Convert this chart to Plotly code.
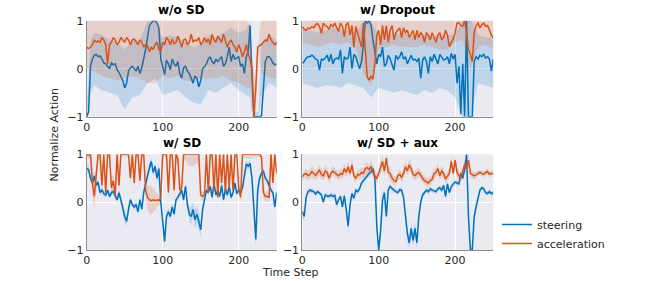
import plotly.graph_objects as go

# ---------------- data ----------------
T_STEP = 2.5
N_PTS = 101
t_line = [i * T_STEP for i in range(N_PTS)]

titles = ["w/o SD", "w/ Dropout", "w/ SD", "w/ SD + aux"]
series_names = ["steering", "acceleration"]
x_ticks = [0, 100, 200]
y_ticks = [-1, 0, 1]

# --- panel 1 : w/o SD ---
steer_1 = [-1.0, -0.9, 0.05, 0.2, 0.28, 0.3, 0.25, 0.27, 0.2, 0.12,
           0.1, 0.05, 0.0, 0.12, 0.08, 0.1, -0.02, -0.08, -0.15, -0.25,
           -0.4, -0.3, -0.05, 0.02, 0.05, 0.0, -0.05, 0.05, -0.1, 0.02,
           0.18, 0.4, 0.65, 0.9, 0.95, 1.0, 1.0, 0.95, 0.85, 0.2,
           0.05, -0.12, 0.18, 0.1, -0.02, 0.2, 0.1, 0.05, 0.15, -0.1,
           -0.2, 0.02, 0.05, -0.05, -0.1, -0.2, -0.3, -0.15, -0.2, -0.38,
           -0.25, 0.0, 0.05, 0.1, 0.2, 0.25, 0.15, 0.1, 0.2, 0.15,
           0.2, 0.25, 0.05, 0.1, 0.25, 0.45, 0.15, 0.3, 0.2, 0.22,
           0.25, 0.05, 0.1, -0.1, 0.25, 0.35, 0.9, -0.2, -1.0, -1.0,
           -1.0, -1.0, -0.98, -0.3, 0.15, 0.25, 0.25, 0.2, 0.12, 0.08,
           0.1]
accel_1 = [0.45, 0.42, 0.45, 0.5, 0.6, 0.55, 0.58, 0.55, 0.65, 0.6,
           0.5, 0.1, 0.5, 0.55, 0.65, 0.6, 0.5, 0.55, 0.65, 0.6,
           0.55, 0.65, 0.6, 0.5, 0.6, 0.62, 0.55, 0.5, 0.6, 0.55,
           0.45, 0.5, 0.48, 0.35, 0.45, 0.4, 0.5, 0.55, 0.4, 0.35,
           0.55, 0.5, 0.65, 0.6, 0.5, 0.62, 0.52, 0.55, 0.68, 0.55,
           0.45, 0.6, 0.62, 0.5, 0.55, 0.72, 0.55, 0.6, 0.58, 0.65,
           0.5, 0.55, 0.65, 0.55, 0.62, 0.5, 0.72, 0.6, 0.55, 0.68,
           0.6, 0.55, 0.72, 0.6, 0.45, 0.55, 0.6, 0.5, 0.45, 0.35,
           0.5, 0.4, 0.25, 0.35, 0.5, 0.3, 0.2, 0.0, -1.0, -0.4,
           0.45, 0.48, 0.5, 0.55, 0.6, 0.58, 0.72, 0.6, 0.55, 0.5,
           0.55]
t_band_1 = [0, 5, 10, 20, 30, 40, 50, 60, 70, 80, 90, 100, 110, 120, 130,
            140, 150, 160, 170, 180, 190, 200, 210, 215, 218, 222, 226, 230, 240, 250]
steer_hi_1 = [-0.8, 0.6, 0.75, 0.7, 0.6, 0.55, 0.4, 0.6, 0.6, 1.0, 1.0, 0.65, 0.7, 0.65, 0.55,
              0.45, 0.5, 0.7, 0.65, 0.75, 0.85, 0.75, 0.8, 1.0, -0.2, -0.9, -0.9, 0.5, 0.7, 0.6]
steer_lo_1 = [-1.0, -0.5, -0.35, -0.45, -0.5, -0.55, -0.85, -0.6, -0.55, -0.3, -0.2, -0.55, -0.5, -0.45, -0.6,
              -0.7, -0.75, -0.45, -0.5, -0.4, -0.3, -0.45, -0.55, -0.6, -1.05, -1.05, -1.05, -0.6, -0.3, -0.4]
accel_hi_1 = [1.1, 1.1, 1.2, 1.2, 1.2, 1.2, 1.2, 1.2, 1.2, 1.1, 1.1, 1.2, 1.2, 1.2, 1.2,
              1.2, 1.2, 1.2, 1.2, 1.2, 1.1, 1.1, 1.0, 0.9, 0.2, -0.3, 0.55, 1.1, 1.1, 1.1]
accel_lo_1 = [0.0, -0.05, -0.05, -0.15, -0.2, -0.25, -0.2, -0.15, -0.2, -0.3, -0.3, -0.15, -0.2, -0.15, -0.25,
              -0.25, -0.2, -0.2, -0.2, -0.15, -0.25, -0.3, -0.4, -0.4, -0.6, -1.0, 0.35, -0.1, -0.2, -0.2]

# --- panel 2 : w/ Dropout ---
steer_2 = [0.11, 0.15, 0.22, 0.25, 0.25, 0.28, 0.25, 0.2, 0.18, -0.03,
           0.2, 0.18, 0.22, 0.28, 0.15, 0.3, 0.1, 0.2, 0.22, 0.2,
           0.39, -0.1, 0.25, 0.2, 0.22, 0.45, 0.0, 0.3, 0.25, 0.1,
           0.0, 0.15, 0.5, 1.0, 0.95, 1.0, 0.9, 0.6, 0.3, 0.1,
           0.3, 0.25, 0.45, 0.05, 0.1, 0.28, 0.2, 0.1, -0.03, 0.28,
           0.2, 0.25, 0.35, 0.2, 0.25, 0.1, 0.2, 0.28, 0.18, 0.2,
           0.15, 0.22, -0.2, 0.18, 0.25, 0.15, -0.1, 0.25, 0.15, 0.3,
           0.2, 0.1, 0.3, 0.25, 0.18, 0.2, 0.25, 0.1, 0.32, 0.2,
           0.3, -0.3, 0.05, -0.95, 0.1, -1.0, 1.0, -1.0, -1.0, -1.0,
           0.15, 0.25, 0.2, 0.28, 0.25, 0.3, 0.22, 0.25, 0.2, -0.05,
           0.2]
accel_2 = [0.88, 0.82, 0.8, 0.85, 0.83, 0.88, 0.85, 0.92, 0.94, 0.88,
           0.74, 0.95, 0.9, 0.88, 0.82, 0.92, 0.88, 0.95, 0.85, 0.78,
           0.95, 0.88, 0.67, 0.92, 0.95, 0.7, 0.9, 0.45, 0.88, 0.75,
           0.6, 0.45, 0.95, 0.3, -0.17, -0.24, -0.15, -0.22, 0.1, 0.7,
           0.8, 0.5, 0.9, 0.6, 0.9, 0.55, 0.8, 0.9, 0.6, 0.75,
           0.8, 0.85, 0.65, 0.85, 0.75, 0.8, 0.65, 0.72, 0.8, 0.6,
           0.8, 0.65, 0.75, 0.7, 0.55, 0.75, 0.7, 0.6, 0.75, 0.65,
           0.55, 0.7, 0.75, 0.6, 0.65, 0.8, 0.7, 0.46, 0.55, 0.62,
           0.75, 0.95, 0.95, 0.9, 0.88, 1.0, 0.75, 0.4, 0.3, 0.15,
           0.75, 0.9, 0.95, 0.85, 0.92, 0.95, 0.88, 0.9, 0.8, 0.7,
           0.65]
t_band_2 = [0, 10, 20, 30, 40, 50, 60, 70, 80, 90, 100, 110, 120, 130, 140,
            150, 160, 170, 180, 190, 200, 210, 220, 230, 240, 250]
steer_hi_2 = [0.85, 0.8, 0.75, 0.8, 0.85, 0.8, 0.8, 0.75, 1.0, 1.0, 0.7, 0.75, 0.7, 0.75, 0.7,
              0.7, 0.7, 0.65, 0.7, 0.7, 0.7, 1.05, 1.05, 0.7, 0.65, 0.65]
steer_lo_2 = [-0.3, -0.35, -0.4, -0.35, -0.35, -0.4, -0.3, -0.35, -0.4, -0.6, -0.4, -0.45, -0.5, -0.45, -0.5,
              -0.55, -0.45, -0.5, -0.4, -0.45, -0.6, -1.05, -1.05, -0.3, -0.35, -0.4]
accel_hi_2 = [1.2, 1.2, 1.2, 1.2, 1.2, 1.2, 1.2, 1.2, 1.2, 1.2, 1.2, 1.2, 1.2, 1.2, 1.2,
              1.2, 1.2, 1.2, 1.2, 1.2, 1.2, 1.2, 1.2, 1.2, 1.2, 1.2]
accel_lo_2 = [0.55, 0.5, 0.45, 0.5, 0.55, 0.5, 0.55, 0.4, -0.1, -0.35, 0.4, 0.45, 0.5, 0.45, 0.45,
              0.45, 0.5, 0.45, 0.4, 0.4, 0.55, 0.6, 0.0, 0.45, 0.5, 0.4]

# --- panel 3 : w/ SD ---
steer_3 = [0.7, 0.68, 0.5, 0.4, 0.55, 0.35, 0.42, 0.2, 0.25, 0.18,
           0.15, 0.25, 0.12, 0.2, 0.22, 0.12, 0.05, 0.2, 0.0, -0.12,
           -0.3, -0.4, -0.15, 0.05, -0.05, -0.1, -0.05, -0.2, 0.05, -0.15,
           0.2, 0.35, 0.55, 0.72, 0.85, 0.62, 0.75, 0.5, 0.7, 0.0,
           -0.5, -0.82, -0.3, -0.2, -0.3, -0.1, -0.25, 0.05, 0.1, 0.18,
           0.25, 0.05, 0.33, -0.05, -0.25, -0.3, -0.15, -0.37, -0.25, -0.4,
           -0.58, -0.15, 0.1, 0.25, 0.2, 0.33, 0.1, 0.4, 0.15, 0.25,
           0.12, 0.35, 0.05, 0.28, 0.15, 0.33, 0.1, 0.2, 0.4, 0.18,
           0.25, 0.2, 0.3, 0.6, 0.8, 0.75, 0.81, 0.5, -0.2, -0.78,
           0.25, 0.5, 0.6, 0.65, 0.5, 0.45, 0.35, 0.25, 0.2, -0.1,
           0.2]
accel_3 = [1.0, 0.98, 1.0, 0.4, 0.12, 0.5, 1.0, 1.0, 0.35, 1.0,
           0.2, 1.0, 1.0, 0.3, 0.45, 0.15, 1.0, 0.35, 1.0, 1.0,
           1.0, 1.0, 1.0, 0.5, 1.0, 0.4, 1.0, 1.0, 0.45, 1.0,
           1.0, 0.25, 0.1, 0.05, 0.03, 0.05, 0.03, 0.05, 0.03, 0.1,
           1.0, 1.0, 1.0, 0.2, 1.0, 1.0, 0.25, 1.0, 0.9, 0.25,
           0.3, 1.0, 1.0, 1.0, 1.0, 1.0, 1.0, 1.0, 1.0, 1.0,
           0.15, 0.12, 0.15, 1.0, 0.2, 1.0, 1.0, 0.25, 1.0, 0.1,
           1.0, 0.4, 1.0, 0.2, 1.0, 0.3, 1.0, 0.25, 1.0, 1.0,
           0.3, 0.1, 1.0, 1.0, 1.0, 1.0, 1.0, 1.0, 1.0, 1.0,
           1.0, 1.0, 0.95, 0.2, 0.12, 0.12, 0.1, 1.0, 0.4, 1.0,
           0.6]
steer_sd_3 = [0.08, 0.08, 0.08, 0.1, 0.08, 0.08, 0.06, 0.06, 0.06, 0.06,
              0.06, 0.06, 0.06, 0.06, 0.06, 0.06, 0.08, 0.08, 0.1, 0.12,
              0.12, 0.1, 0.08, 0.06, 0.06, 0.06, 0.06, 0.08, 0.06, 0.06,
              0.08, 0.08, 0.08, 0.1, 0.08, 0.08, 0.08, 0.1, 0.1, 0.1,
              0.15, 0.12, 0.1, 0.08, 0.08, 0.08, 0.08, 0.06, 0.06, 0.06,
              0.06, 0.08, 0.08, 0.1, 0.15, 0.2, 0.15, 0.2, 0.18, 0.2,
              0.15, 0.12, 0.08, 0.06, 0.06, 0.06, 0.06, 0.06, 0.06, 0.06,
              0.06, 0.06, 0.06, 0.06, 0.06, 0.06, 0.06, 0.06, 0.06, 0.06,
              0.06, 0.06, 0.08, 0.08, 0.08, 0.08, 0.08, 0.1, 0.15, 0.15,
              0.1, 0.08, 0.08, 0.06, 0.06, 0.06, 0.06, 0.06, 0.06, 0.08,
              0.08]
accel_sd_3 = [0.05, 0.08, 0.1, 0.3, 0.3, 0.2, 0.1, 0.08, 0.15, 0.08,
              0.15, 0.08, 0.08, 0.2, 0.15, 0.15, 0.08, 0.15, 0.05, 0.05,
              0.05, 0.05, 0.05, 0.15, 0.05, 0.15, 0.05, 0.05, 0.15, 0.05,
              0.05, 0.15, 0.25, 0.3, 0.3, 0.25, 0.2, 0.15, 0.1, 0.1,
              0.05, 0.05, 0.1, 0.15, 0.08, 0.08, 0.2, 0.1, 0.15, 0.15,
              0.15, 0.1, 0.15, 0.2, 0.25, 0.25, 0.25, 0.22, 0.2, 0.15,
              0.1, 0.08, 0.1, 0.08, 0.12, 0.08, 0.06, 0.12, 0.06, 0.1,
              0.06, 0.15, 0.06, 0.12, 0.06, 0.12, 0.06, 0.12, 0.06, 0.06,
              0.12, 0.1, 0.06, 0.06, 0.08, 0.1, 0.1, 0.08, 0.06, 0.06,
              0.06, 0.06, 0.08, 0.12, 0.1, 0.1, 0.1, 0.06, 0.15, 0.06,
              0.1]

# --- panel 4 : w/ SD + aux ---
steer_4 = [-0.2, -0.3, 0.1, 0.22, 0.25, 0.24, 0.22, 0.17, 0.22, 0.19,
           0.15, 0.0, 0.15, 0.13, 0.12, 0.15, 0.12, 0.14, -0.05, 0.05,
           0.12, -0.1, 0.13, -0.15, -0.5, -0.05, 0.18, 0.08, 0.25, 0.22,
           0.28, 0.4, 0.45, 0.5, 0.57, 0.6, 0.64, 0.7, 0.5, -0.5,
           -1.0, -0.6, 0.05, 0.2, -0.3, 0.26, 0.33, 0.28, 0.25, 0.22,
           0.2, 0.26, 0.25, 0.1, -0.3, -0.65, -0.85, -0.55, -0.8, -0.55,
           -0.85, -0.3, 0.0, 0.15, 0.2, 0.25, 0.22, 0.28, 0.25, 0.24,
           0.22, 0.28, 0.3, 0.25, 0.35, 0.12, 0.38, 0.2, 0.32, 0.38,
           0.42, 0.4, 0.38, 0.6, 0.5, 0.68, 1.0, -0.3, -1.0, -1.0,
           -0.3, -0.1, 0.1, 0.25, 0.3, 0.28, 0.2, 0.18, 0.22, 0.18,
           0.2]
accel_4 = [0.53, 0.58, 0.6, 0.55, 0.58, 0.64, 0.6, 0.56, 0.62, 0.67,
           0.58, 0.55, 0.65, 0.62, 0.5, 0.6, 0.65, 0.62, 0.58, 0.55,
           0.6, 0.58, 0.7, 0.62, 0.74, 0.6, 0.78, 0.55, 0.5, 0.58,
           0.57, 0.62, 0.6, 0.7, 0.72, 0.68, 0.75, 0.62, 0.55, 0.5,
           0.6, 0.72, 0.85, 0.65, 0.92, 0.62, 0.6, 0.5, 0.45, 0.43,
           0.55, 0.58, 0.52, 0.6, 0.74, 0.65, 0.78, 0.7, 0.58, 0.55,
           0.6, 0.62, 0.55, 0.5, 0.45, 0.42, 0.4, 0.45, 0.48, 0.6,
           0.62, 0.7, 0.55, 0.65, 0.6, 0.48, 0.55, 0.6, 0.85, 0.6,
           0.88, 0.62, 0.55, 0.5, 0.65, 0.78, 0.7, 0.88, 0.6, 0.58,
           0.55, 0.57, 0.6, 0.62, 0.6, 0.58, 0.62, 0.64, 0.58, 0.6,
           0.6]
steer_sd_4 = [0.12, 0.1, 0.08, 0.05, 0.05, 0.05, 0.05, 0.05, 0.05, 0.05,
              0.05, 0.06, 0.05, 0.05, 0.05, 0.05, 0.05, 0.05, 0.08, 0.06,
              0.05, 0.08, 0.06, 0.1, 0.15, 0.1, 0.06, 0.06, 0.05, 0.05,
              0.05, 0.05, 0.06, 0.06, 0.06, 0.08, 0.08, 0.08, 0.1, 0.15,
              0.1, 0.15, 0.12, 0.08, 0.1, 0.06, 0.05, 0.05, 0.05, 0.05,
              0.05, 0.05, 0.05, 0.08, 0.12, 0.15, 0.12, 0.15, 0.12, 0.15,
              0.12, 0.12, 0.1, 0.06, 0.05, 0.05, 0.05, 0.05, 0.05, 0.05,
              0.05, 0.05, 0.05, 0.05, 0.05, 0.06, 0.05, 0.06, 0.05, 0.05,
              0.05, 0.05, 0.05, 0.06, 0.06, 0.08, 0.1, 0.12, 0.1, 0.05,
              0.12, 0.1, 0.08, 0.05, 0.05, 0.05, 0.05, 0.05, 0.05, 0.05,
              0.05]
accel_sd_4 = [0.08, 0.08, 0.1, 0.1, 0.1, 0.12, 0.1, 0.1, 0.1, 0.12,
              0.1, 0.1, 0.12, 0.1, 0.1, 0.1, 0.1, 0.1, 0.1, 0.1,
              0.1, 0.1, 0.12, 0.1, 0.12, 0.1, 0.12, 0.1, 0.1, 0.1,
              0.1, 0.12, 0.1, 0.12, 0.12, 0.1, 0.12, 0.1, 0.12, 0.1,
              0.1, 0.15, 0.15, 0.12, 0.12, 0.12, 0.15, 0.1, 0.1, 0.1,
              0.1, 0.1, 0.1, 0.12, 0.12, 0.1, 0.12, 0.12, 0.1, 0.1,
              0.1, 0.1, 0.1, 0.1, 0.1, 0.1, 0.12, 0.1, 0.1, 0.12,
              0.1, 0.12, 0.1, 0.12, 0.1, 0.1, 0.1, 0.1, 0.12, 0.1,
              0.15, 0.12, 0.1, 0.1, 0.1, 0.12, 0.12, 0.15, 0.1, 0.08,
              0.08, 0.06, 0.06, 0.06, 0.06, 0.06, 0.06, 0.06, 0.06, 0.06,
              0.06]

# ---------------- styling ----------------
W, H = 664, 281
FONT = "DejaVu Sans"
BLUE = "#0072BD"
ORANGE = "#D95319"
BLUE_FILL = "rgba(0,114,189,0.18)"
ORANGE_FILL = "rgba(217,83,25,0.18)"
BG = "#EAEAF2"
TXT = "#262626"


def px(xp):
    return xp / W


def py(yp):
    return 1 - yp / H


# plot areas in pixels (left, right, top, bottom)
boxes = [(86.7, 276.7, 20.7, 116.7), (302.3, 493.3, 20.7, 116.7),
         (86.7, 276.7, 154.3, 250.0), (302.3, 493.3, 154.3, 250.0)]

fig = go.Figure()


def band_from_bounds(tb, lo, hi):
    return list(tb) + list(tb)[::-1], list(hi) + list(lo)[::-1]


def band_from_sd(t, mean, sd):
    hi = [m + s for m, s in zip(mean, sd)]
    lo = [m - s for m, s in zip(mean, sd)]
    return list(t) + list(t)[::-1], hi + lo[::-1]


panels = [
    dict(steer=steer_1, accel=accel_1,
         sband=band_from_bounds(t_band_1, steer_lo_1, steer_hi_1),
         aband=band_from_bounds(t_band_1, accel_lo_1, accel_hi_1)),
    dict(steer=steer_2, accel=accel_2,
         sband=band_from_bounds(t_band_2, steer_lo_2, steer_hi_2),
         aband=band_from_bounds(t_band_2, accel_lo_2, accel_hi_2)),
    dict(steer=steer_3, accel=accel_3,
         sband=band_from_sd(t_line, steer_3, steer_sd_3),
         aband=band_from_sd(t_line, accel_3, accel_sd_3)),
    dict(steer=steer_4, accel=accel_4,
         sband=band_from_sd(t_line, steer_4, steer_sd_4),
         aband=band_from_sd(t_line, accel_4, accel_sd_4)),
]

for i, p in enumerate(panels):
    xa = "x" if i == 0 else f"x{i+1}"
    ya = "y" if i == 0 else f"y{i+1}"
    bx, by = p["sband"]
    fig.add_trace(go.Scatter(x=bx, y=by, fill="toself", fillcolor=BLUE_FILL,
                             line=dict(width=0), mode="lines", hoverinfo="skip",
                             showlegend=False, xaxis=xa, yaxis=ya))
    fig.add_trace(go.Scatter(x=t_line, y=p["steer"], mode="lines",
                             line=dict(color=BLUE, width=1.5),
                             name=series_names[0], showlegend=(i == 0),
                             xaxis=xa, yaxis=ya))
    bx, by = p["aband"]
    fig.add_trace(go.Scatter(x=bx, y=by, fill="toself", fillcolor=ORANGE_FILL,
                             line=dict(width=0), mode="lines", hoverinfo="skip",
                             showlegend=False, xaxis=xa, yaxis=ya))
    fig.add_trace(go.Scatter(x=t_line, y=p["accel"], mode="lines",
                             line=dict(color=ORANGE, width=1.5),
                             name=series_names[1], showlegend=(i == 0),
                             xaxis=xa, yaxis=ya))

layout = dict(
    width=W, height=H,
    margin=dict(l=0, r=0, t=0, b=0, autoexpand=False),
    paper_bgcolor="white", plot_bgcolor=BG,
    font=dict(family=FONT, size=11, color=TXT),
    legend=dict(x=px(497), y=py(210), xanchor="left", yanchor="top",
                bgcolor="rgba(255,255,255,0)", borderwidth=0,
                font=dict(family=FONT, size=11, color=TXT),
                itemwidth=30, tracegroupgap=0),
    annotations=[],
)

for i, (l, r, t, b) in enumerate(boxes):
    sx = "" if i == 0 else str(i + 1)
    layout[f"xaxis{sx}"] = dict(
        domain=[px(l), px(r)], range=[0, 250], tickvals=x_ticks,
        showgrid=True, gridcolor="white", gridwidth=1, zeroline=False,
        showline=True, linecolor="#8c8c8c", linewidth=1, ticks="",
        automargin=False,
        tickfont=dict(family=FONT, size=11, color=TXT),
        anchor=f"y{sx}", fixedrange=True)
    layout[f"yaxis{sx}"] = dict(
        domain=[py(b), py(t)], range=[-1, 1], tickvals=y_ticks,
        showgrid=True, gridcolor="white", gridwidth=1, zeroline=False,
        showline=True, linecolor="#8c8c8c", linewidth=1, ticks="",
        automargin=False,
        tickfont=dict(family=FONT, size=11, color=TXT),
        anchor=f"x{sx}", fixedrange=True)
    layout["annotations"].append(dict(
        text=f"<b>{titles[i]}</b>", x=px((l + r) / 2), y=py(t),
        xref="paper", yref="paper", xanchor="center", yanchor="bottom",
        yshift=2, showarrow=False, font=dict(family=FONT, size=12, color="black")))

layout["annotations"].append(dict(
    text="Normalize Action", x=px(54), y=py(135.4), xref="paper", yref="paper",
    xanchor="center", yanchor="middle", textangle=-90, showarrow=False,
    font=dict(family=FONT, size=11, color=TXT)))
layout["annotations"].append(dict(
    text="Time Step", x=px(290), y=py(272.5), xref="paper", yref="paper",
    xanchor="center", yanchor="middle", showarrow=False,
    font=dict(family=FONT, size=11, color=TXT)))

fig.update_layout(**layout)
# remove the browser's default 8px body margin so the figure fills the window
fig.write_html("out.html",
               config={"displayModeBar": False, "staticPlot": True},
               post_script="document.body.style.margin='0';"
                           "document.body.style.overflow='hidden';")
